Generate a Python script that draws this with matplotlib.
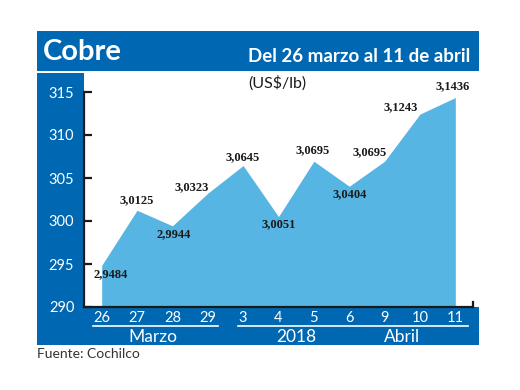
import matplotlib
matplotlib.use("Agg")
import matplotlib.pyplot as plt
from matplotlib.patches import Rectangle
from matplotlib.lines import Line2D
import matplotlib.transforms as mtransforms

# ---- data ----
dates = ["26", "27", "28", "29", "3", "4", "5", "6", "9", "10", "11"]
values = [294.84, 301.25, 299.44, 303.23, 306.45, 300.51, 306.95, 304.04, 306.95, 312.43, 314.36]
value_labels = ["2,9484", "3,0125", "2,9944", "3,0323", "3,0645", "3,0051",
                "3,0695", "3,0404", "3,0695", "3,1243", "3,1436"]
yticks = [290, 295, 300, 305, 310, 315]
groups = ["Marzo", "2018", "Abril"]

title = "Cobre"
subtitle = "Del 26 marzo al 11 de abril"
unit = "(US$/lb)"
source = "Fuente: Cochilco"

# ---- style ----
DARK = "#0068B2"
LIGHT = "#57B5E4"
W, H = 520, 390
label_offsets = [(9, -9), (0, 10), (1, -8), (-16, 6), (-1, 8), (0, -8),
                 (-1, 11), (0, -8), (-15, 9), (-19, 7), (-3, 11)]
group_pos = [1.45, 5.5, 8.5]

fig = plt.figure(figsize=(W / 100, H / 100), dpi=100)
fig.patch.set_facecolor("white")

def fx(px):
    return px / W

def fy(py):
    return 1 - py / H

def frect(x0, y0, x1, y1, color):
    fig.patches.append(Rectangle((fx(x0), fy(y1)), fx(x1) - fx(x0), fy(y0) - fy(y1),
                                 transform=fig.transFigure, color=color, zorder=-5, lw=0))

# blue frame pieces
frect(37, 31, 479, 71, DARK)     # top band
frect(37, 73, 84, 345, DARK)     # left column
frect(37, 307, 479, 345, DARK)   # bottom band

# axes
ax = fig.add_axes([fx(84), fy(307), fx(473) - fx(84), fy(92) - fy(307)])
ax.set_facecolor("none")
x = list(range(len(dates)))
ax.fill_between(x, values, 290, color=LIGHT, lw=0, zorder=1)
ax.set_xlim(-0.5, len(dates) - 0.5)
ax.set_ylim(290, 315)
for s in ["top", "right"]:
    ax.spines[s].set_visible(False)
for s in ["left", "bottom"]:
    ax.spines[s].set_linewidth(1.6)
    ax.spines[s].set_color("#1a1a1a")
ax.set_yticks(yticks)
ax.set_yticklabels([str(v) for v in yticks])
ax.tick_params(axis="y", direction="in", length=6, width=1.6, color="#1a1a1a",
               labelcolor="white", labelsize=10.5, pad=7)
for t in ax.get_yticklabels():
    t.set_fontfamily("Lato")
ax.set_xticks(x)
ax.set_xticklabels(dates)
ax.tick_params(axis="x", length=0, labelcolor="white", labelsize=10.5, pad=3)
for t in ax.get_xticklabels():
    t.set_fontfamily("Lato")
# right end tick
ax.add_line(Line2D([1, 1], [0, 0.025], transform=ax.transAxes, color="#1a1a1a",
                   lw=1.6, clip_on=False))

# value labels
for xi, v, lab, off in zip(x, values, value_labels, label_offsets):
    ax.annotate(lab, (xi, v), xytext=off, textcoords="offset pixels",
                ha="center", va="center", fontsize=9, fontweight="bold",
                family="Liberation Serif", color="#1a1a1a", zorder=3)

# group underlines and labels
bt = mtransforms.blended_transform_factory(ax.transData, fig.transFigure)
fig.add_artist(Line2D([-0.25, 3.3], [fy(326), fy(326)], transform=bt, color="white", lw=1.2))
fig.add_artist(Line2D([3.85, 10.35], [fy(326), fy(326)], transform=bt, color="white", lw=1.2))
for g, gx in zip(groups, group_pos):
    fig.text(gx, fy(336.5), g, transform=bt, ha="center", va="center",
             color="white", fontsize=12.5, family="Lato")

# titles
fig.text(fx(43), fy(52), title, ha="left", va="center", color="white",
         fontsize=21, fontweight="bold", family="Lato")
fig.text(fx(470), fy(57), subtitle, ha="right", va="center", color="white",
         fontsize=13.5, fontweight="bold", family="Lato")
fig.text(fx(277), fy(83), unit, ha="center", va="center", color="#1a1a1a",
         fontsize=11.5, family="Lato")
fig.text(fx(37), fy(354), source, ha="left", va="center", color="#333333",
         fontsize=10, family="Lato")

fig.savefig("out.png", dpi=100)
